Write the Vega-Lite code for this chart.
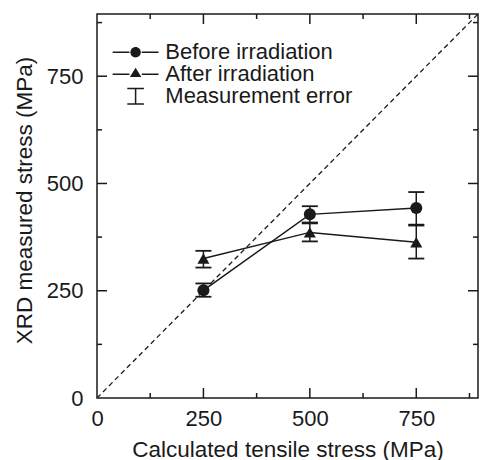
{
  "$schema": "https://vega.github.io/schema/vega-lite/v6.json",
  "width": 381,
  "height": 384,
  "autosize": {"type": "none"},
  "padding": {"left": 97, "top": 14, "right": 2, "bottom": 62},
  "config": {
    "view": {"stroke": "#1a1a1a", "strokeWidth": 1.5},
    "font": "Liberation Sans",
    "axis": {
      "domain": false,
      "grid": false,
      "ticks": false,
      "labelFont": "Liberation Sans",
      "labelFontSize": 22,
      "labelColor": "#1a1a1a",
      "labelFlush": false,
      "titleFont": "Liberation Sans",
      "titleFontSize": 22.5,
      "titleFontWeight": "normal",
      "titleColor": "#1a1a1a"
    }
  },
  "datasets": {
    "stress": [
      {"series": "Before irradiation", "calc": 250, "xrd": 251, "lo": 236, "hi": 267},
      {"series": "Before irradiation", "calc": 500, "xrd": 428, "lo": 409, "hi": 447},
      {"series": "Before irradiation", "calc": 750, "xrd": 443, "lo": 404, "hi": 480},
      {"series": "After irradiation", "calc": 250, "xrd": 325, "lo": 304, "hi": 343},
      {"series": "After irradiation", "calc": 500, "xrd": 386, "lo": 365, "hi": 407},
      {"series": "After irradiation", "calc": 750, "xrd": 363, "lo": 325, "hi": 402}
    ],
    "diag": [
      {"calc": 0, "xrd": 0},
      {"calc": 895, "xrd": 895}
    ],
    "axticks": [
      {"pos": 125, "kind": "minor"},
      {"pos": 250, "kind": "major"},
      {"pos": 375, "kind": "minor"},
      {"pos": 500, "kind": "major"},
      {"pos": 625, "kind": "minor"},
      {"pos": 750, "kind": "major"},
      {"pos": 875, "kind": "minor"}
    ]
  },
  "layer": [
    {
      "data": {"name": "diag"},
      "mark": {"type": "line", "color": "#1a1a1a", "strokeWidth": 1.3, "strokeDash": [5, 3.5], "clip": true},
      "encoding": {
        "x": {"field": "calc", "type": "quantitative", "scale": {"domain": [0, 895], "nice": false, "zero": false},
          "axis": {"orient": "bottom", "values": [0, 250, 500, 750], "labelPadding": 10, "title": "Calculated tensile stress (MPa)", "titlePadding": 9}},
        "y": {"field": "xrd", "type": "quantitative", "scale": {"domain": [0, 895], "nice": false, "zero": false},
          "axis": {"orient": "left", "values": [0, 250, 500, 750], "labelPadding": 14, "title": "XRD measured stress (MPa)", "titlePadding": 10, "titleY": 186}}
      }
    },
    {
      "data": {"name": "axticks"},
      "mark": {"type": "tick", "orient": "vertical", "thickness": 1.5, "color": "#1a1a1a", "opacity": 1, "clip": true},
      "encoding": {
        "x": {"field": "pos", "type": "quantitative", "axis": null},
        "y": {"datum": 0, "type": "quantitative", "axis": null},
        "size": {"field": "kind", "type": "nominal", "scale": {"domain": ["major", "minor"], "range": [20, 10]}, "legend": null}
      }
    },
    {
      "data": {"name": "axticks"},
      "mark": {"type": "tick", "orient": "vertical", "thickness": 1.5, "color": "#1a1a1a", "opacity": 1, "clip": true},
      "encoding": {
        "x": {"field": "pos", "type": "quantitative", "axis": null},
        "y": {"datum": 895, "type": "quantitative", "axis": null},
        "size": {"field": "kind", "type": "nominal", "scale": {"domain": ["major", "minor"], "range": [20, 10]}, "legend": null}
      }
    },
    {
      "data": {"name": "axticks"},
      "mark": {"type": "tick", "orient": "horizontal", "thickness": 1.5, "color": "#1a1a1a", "opacity": 1, "clip": true},
      "encoding": {
        "y": {"field": "pos", "type": "quantitative", "axis": null},
        "x": {"datum": 0, "type": "quantitative", "axis": null},
        "size": {"field": "kind", "type": "nominal", "scale": {"domain": ["major", "minor"], "range": [20, 10]}, "legend": null}
      }
    },
    {
      "data": {"name": "axticks"},
      "mark": {"type": "tick", "orient": "horizontal", "thickness": 1.5, "color": "#1a1a1a", "opacity": 1, "clip": true},
      "encoding": {
        "y": {"field": "pos", "type": "quantitative", "axis": null},
        "x": {"datum": 895, "type": "quantitative", "axis": null},
        "size": {"field": "kind", "type": "nominal", "scale": {"domain": ["major", "minor"], "range": [20, 10]}, "legend": null}
      }
    },
    {
      "data": {"name": "stress"},
      "mark": {"type": "rule", "color": "#1a1a1a", "strokeWidth": 1.5},
      "encoding": {
        "x": {"field": "calc", "type": "quantitative", "axis": null},
        "y": {"field": "lo", "type": "quantitative", "axis": null},
        "y2": {"field": "hi"}
      }
    },
    {
      "data": {"name": "stress"},
      "mark": {"type": "tick", "orient": "horizontal", "size": 16, "thickness": 1.8, "color": "#1a1a1a", "opacity": 1},
      "encoding": {
        "x": {"field": "calc", "type": "quantitative", "axis": null},
        "y": {"field": "lo", "type": "quantitative", "axis": null}
      }
    },
    {
      "data": {"name": "stress"},
      "mark": {"type": "tick", "orient": "horizontal", "size": 16, "thickness": 1.8, "color": "#1a1a1a", "opacity": 1},
      "encoding": {
        "x": {"field": "calc", "type": "quantitative", "axis": null},
        "y": {"field": "hi", "type": "quantitative", "axis": null}
      }
    },
    {
      "data": {"name": "stress"},
      "mark": {"type": "line", "color": "#1a1a1a", "strokeWidth": 1.5},
      "encoding": {
        "x": {"field": "calc", "type": "quantitative", "axis": null},
        "y": {"field": "xrd", "type": "quantitative", "axis": null},
        "detail": {"field": "series", "type": "nominal"}
      }
    },
    {
      "data": {"name": "stress"},
      "transform": [{"filter": "datum.series === 'Before irradiation'"}],
      "mark": {"type": "point", "shape": "circle", "filled": true, "size": 145, "color": "#1a1a1a", "opacity": 1},
      "encoding": {
        "x": {"field": "calc", "type": "quantitative", "axis": null},
        "y": {"field": "xrd", "type": "quantitative", "axis": null}
      }
    },
    {
      "data": {"name": "stress"},
      "transform": [{"filter": "datum.series === 'After irradiation'"}],
      "mark": {"type": "point", "shape": "triangle-up", "filled": true, "size": 145, "color": "#1a1a1a", "opacity": 1},
      "encoding": {
        "x": {"field": "calc", "type": "quantitative", "axis": null},
        "y": {"field": "xrd", "type": "quantitative", "axis": null}
      }
    },
    {
      "data": {"name": "stress"},
      "mark": {"type": "point", "filled": true, "opacity": 0, "color": "#1a1a1a"},
      "encoding": {
        "x": {"field": "calc", "type": "quantitative", "axis": null},
        "y": {"field": "xrd", "type": "quantitative", "axis": null},
        "shape": {"field": "series", "type": "nominal",
          "scale": {
            "domain": ["Before irradiation", "After irradiation", "Measurement error"],
            "range": [
              "M-2.24,-0.073L-0.6,-0.073L-0.6,0.073L-2.24,0.073ZM0.6,-0.073L2.24,-0.073L2.24,0.073L0.6,0.073ZM-0.51,0A0.51,0.51,0,1,0,0.51,0A0.51,0.51,0,1,0,-0.51,0Z",
              "M-2.24,-0.073L-0.6,-0.073L-0.6,0.073L-2.24,0.073ZM0.6,-0.073L2.24,-0.073L2.24,0.073L0.6,0.073ZM0,-0.63L0.56,0.26L-0.56,0.26Z",
              "M-0.81,-0.83L0.81,-0.83L0.81,-0.69L-0.81,-0.69ZM-0.073,-0.69L0.073,-0.69L0.073,0.69L-0.073,0.69ZM-0.81,0.69L0.81,0.69L0.81,0.83L-0.81,0.83Z"
            ]
          },
          "legend": {
            "title": null,
            "orient": "none",
            "legendX": 27.6,
            "legendY": 27.3,
            "symbolSize": 420,
            "symbolStrokeWidth": 0,
            "symbolFillColor": "#1a1a1a",
            "labelOffset": 18.7,
            "labelFont": "Liberation Sans",
            "labelFontSize": 22,
            "labelColor": "#1a1a1a",
            "labelLimit": 300,
            "rowPadding": 0,
            "padding": 0
          }
        }
      }
    }
  ],
  "resolve": {
    "axis": {"x": "independent", "y": "independent"}
  }
}
